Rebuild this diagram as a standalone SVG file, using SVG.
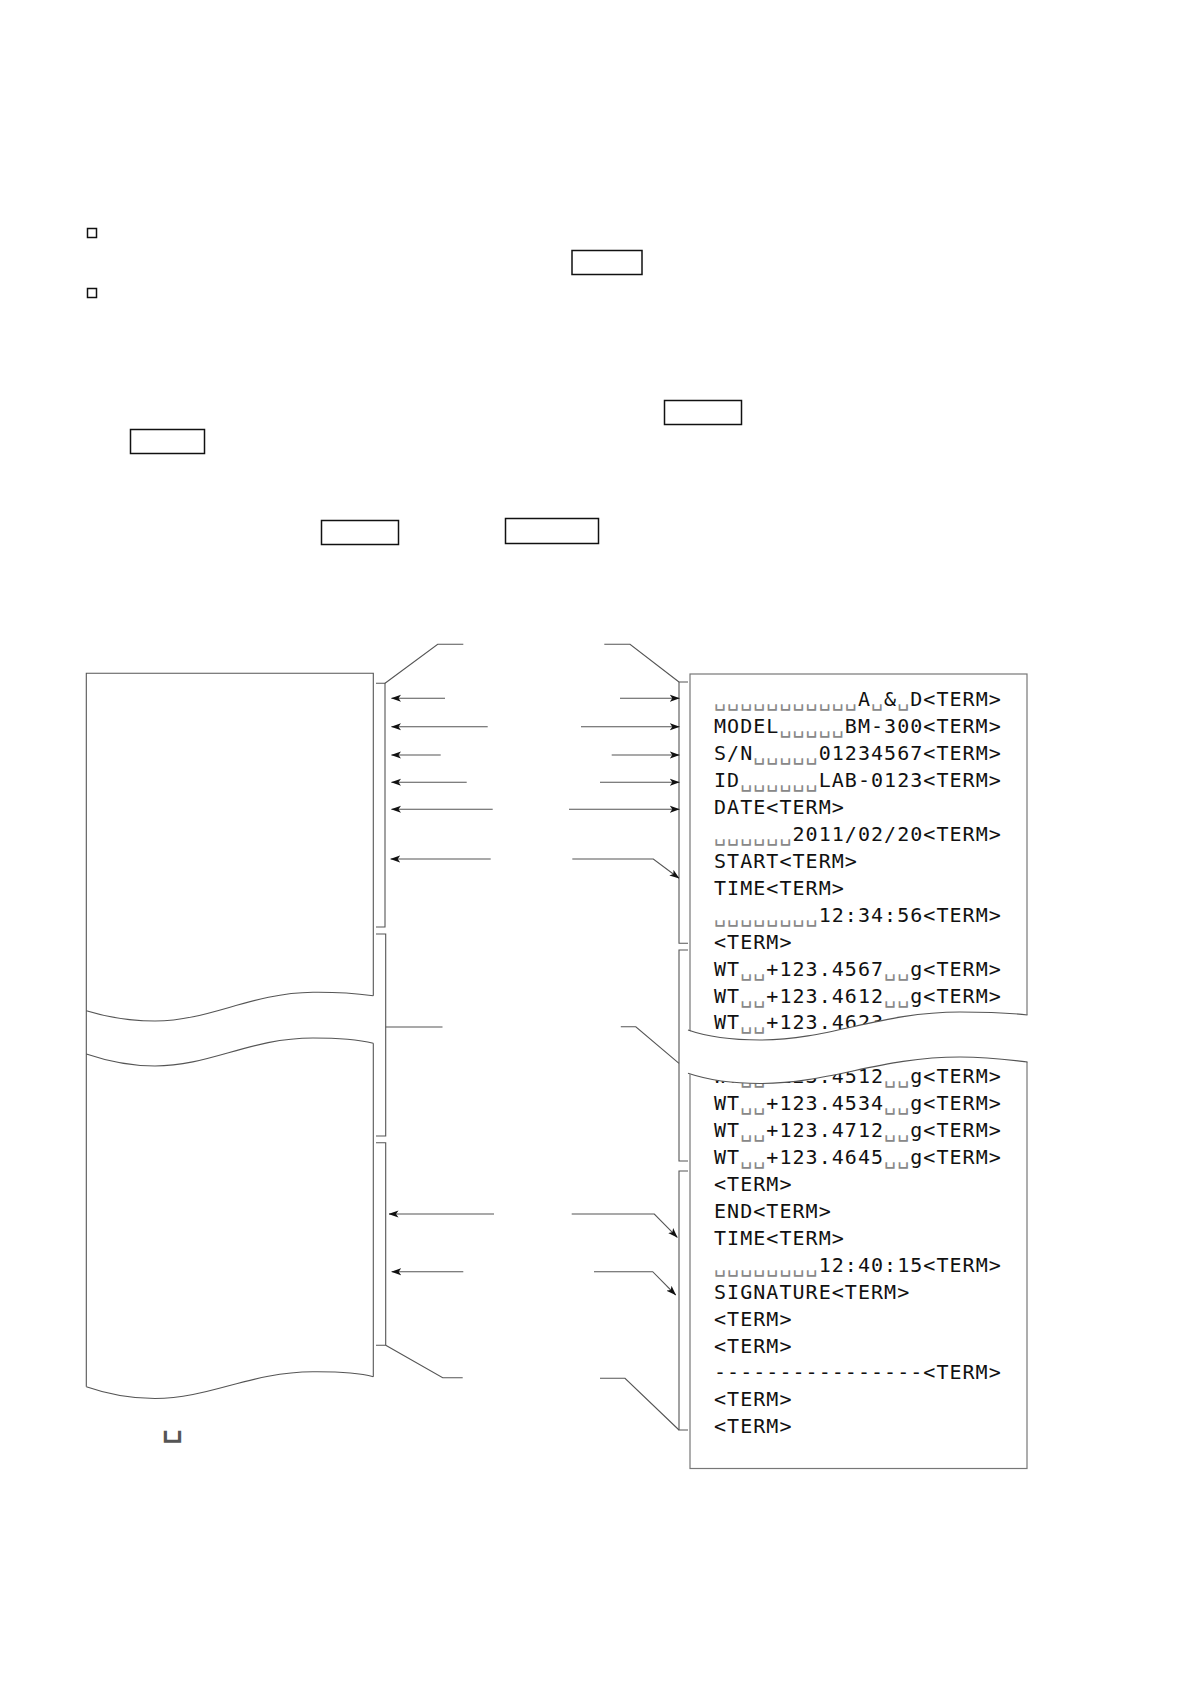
<svg xmlns="http://www.w3.org/2000/svg" width="1190" height="1684" viewBox="0 0 1190 1684">
<defs>
<style>
.box{fill:none;stroke:#111;stroke-width:1.5}
.ln{fill:none;stroke:#555;stroke-width:1.1}
.pp{fill:none;stroke:#555;stroke-width:1.1}
.rt{font-family:"DejaVu Sans Mono",monospace;font-size:20px;letter-spacing:1.04px;fill:#111}
.sp{fill:#888}
</style>
<marker id="ah" viewBox="0 0 10 8" markerWidth="10" markerHeight="8" refX="9.5" refY="4" orient="auto" markerUnits="userSpaceOnUse">
<path d="M0,0.5 L10,4 L0,7.5 L2.5,4 z" fill="#111"/>
</marker>
</defs>
<rect width="1190" height="1684" fill="#fff"/>

<g id="header">
<rect class="box" x="87.5" y="228.5" width="9" height="9"/>
<rect class="box" x="87.5" y="288.5" width="9" height="9"/>
<rect class="box" x="572" y="250.5" width="70" height="24"/>
<rect class="box" x="664.5" y="400.5" width="77" height="24"/>
<rect class="box" x="130.5" y="429.5" width="74" height="24"/>
<rect class="box" x="321.5" y="520.5" width="77" height="24"/>
<rect class="box" x="505.5" y="518.5" width="93" height="25"/>
</g>

<g id="paper">
<path class="pp" d="M373.3,995.7 L373.3,673.3 L86.3,673.3 L86.3,1386.7"/>
<path class="pp" d="M373.3,1043.3 L373.3,1376.7"/>
<path class="pp" d="M86.3,1010.7 C110,1018 130,1021 155,1021 C210,1021 250,993 313,992.3 C340,992 360,994 373.3,995.7"/>
<path class="pp" d="M86.3,1054 C110,1062 130,1066 155,1066 C210,1066 250,1038 313,1038 C340,1038 360,1040 373.3,1043.3"/>
<path class="pp" d="M86.3,1386.7 C110,1395 130,1398.5 155,1398.5 C210,1398.5 250,1372 313,1371.7 C340,1371.5 360,1373 373.3,1376.7"/>
</g>

<g id="printout">
<rect x="690" y="674" width="337" height="794.5" fill="#fff" stroke="#777" stroke-width="1.2"/>
<text class="rt" x="714" y="706.4"><tspan class="sp">␣␣␣␣␣␣␣␣␣␣␣</tspan>A<tspan class="sp">␣</tspan>&amp;<tspan class="sp">␣</tspan>D&lt;TERM&gt;</text>
<text class="rt" x="714" y="733.3">MODEL<tspan class="sp">␣␣␣␣␣</tspan>BM-300&lt;TERM&gt;</text>
<text class="rt" x="714" y="760.2">S/N<tspan class="sp">␣␣␣␣␣</tspan>01234567&lt;TERM&gt;</text>
<text class="rt" x="714" y="787.2">ID<tspan class="sp">␣␣␣␣␣␣</tspan>LAB-0123&lt;TERM&gt;</text>
<text class="rt" x="714" y="814.1">DATE&lt;TERM&gt;</text>
<text class="rt" x="714" y="841"><tspan class="sp">␣␣␣␣␣␣</tspan>2011/02/20&lt;TERM&gt;</text>
<text class="rt" x="714" y="867.9">START&lt;TERM&gt;</text>
<text class="rt" x="714" y="894.8">TIME&lt;TERM&gt;</text>
<text class="rt" x="714" y="921.8"><tspan class="sp">␣␣␣␣␣␣␣␣</tspan>12:34:56&lt;TERM&gt;</text>
<text class="rt" x="714" y="948.7">&lt;TERM&gt;</text>
<text class="rt" x="714" y="975.6">WT<tspan class="sp">␣␣</tspan>+123.4567<tspan class="sp">␣␣</tspan>g&lt;TERM&gt;</text>
<text class="rt" x="714" y="1002.5">WT<tspan class="sp">␣␣</tspan>+123.4612<tspan class="sp">␣␣</tspan>g&lt;TERM&gt;</text>
<text class="rt" x="714" y="1029.4">WT<tspan class="sp">␣␣</tspan>+123.4623</text>
<text class="rt" x="714" y="1083.3">WT<tspan class="sp">␣␣</tspan>+123.4512<tspan class="sp">␣␣</tspan>g&lt;TERM&gt;</text>
<text class="rt" x="714" y="1110.2">WT<tspan class="sp">␣␣</tspan>+123.4534<tspan class="sp">␣␣</tspan>g&lt;TERM&gt;</text>
<text class="rt" x="714" y="1137.1">WT<tspan class="sp">␣␣</tspan>+123.4712<tspan class="sp">␣␣</tspan>g&lt;TERM&gt;</text>
<text class="rt" x="714" y="1164">WT<tspan class="sp">␣␣</tspan>+123.4645<tspan class="sp">␣␣</tspan>g&lt;TERM&gt;</text>
<text class="rt" x="714" y="1191">&lt;TERM&gt;</text>
<text class="rt" x="714" y="1217.9">END&lt;TERM&gt;</text>
<text class="rt" x="714" y="1244.8">TIME&lt;TERM&gt;</text>
<text class="rt" x="714" y="1271.7"><tspan class="sp">␣␣␣␣␣␣␣␣</tspan>12:40:15&lt;TERM&gt;</text>
<text class="rt" x="714" y="1298.6">SIGNATURE&lt;TERM&gt;</text>
<text class="rt" x="714" y="1325.6">&lt;TERM&gt;</text>
<text class="rt" x="714" y="1352.5">&lt;TERM&gt;</text>
<text class="rt" x="714" y="1379.4">----------------&lt;TERM&gt;</text>
<text class="rt" x="714" y="1406.3">&lt;TERM&gt;</text>
<text class="rt" x="714" y="1433.2">&lt;TERM&gt;</text>
<path d="M686,1030 C705,1036 725,1040 760,1040 C830,1040 880,1012 960,1012 C990,1012 1010,1013 1028.5,1015 L1028.5,1062 C1010,1060 990,1057 960,1057 C880,1057 830,1083.5 760,1083.5 C725,1083.5 705,1079 686,1073.3 Z" fill="#fff"/>
<path class="pp" d="M688,1030 C705,1036 725,1040 760,1040 C830,1040 880,1012 960,1012 C990,1012 1010,1013 1027.5,1015"/>
<path class="pp" d="M688,1073.3 C705,1079 725,1083.5 760,1083.5 C830,1083.5 880,1057 960,1057 C990,1057 1010,1060 1027.5,1062"/>
</g>

<g id="connectors">
<path class="ln" d="M376,683.3 H385 V927 H376"/>
<path class="ln" d="M376,934 H385.7 V1136 H376"/>
<path class="ln" d="M376,1142.7 H385.7 V1345.3 H376"/>
<path class="ln" d="M688,682 H679 V943.3 H688"/>
<path class="ln" d="M688,950 H679 V1161 H688"/>
<path class="ln" d="M688,1171 H679 V1430 H688"/>
<path class="ln" d="M385,683.3 L437.7,644.3 H463.3"/>
<path class="ln" d="M604.3,644.3 H630 L679,682"/>
<path class="ln" d="M385.7,1027 H442.5"/>
<path class="ln" d="M620.8,1026.8 H635.8 L679,1063.3"/>
<path class="ln" d="M385.7,1345.3 L442.7,1377.7 H462.7"/>
<path class="ln" d="M600,1378.3 H625 L679,1430"/>
<line class="ln" x1="445" y1="698.3" x2="391.5" y2="698.3" marker-end="url(#ah)"/>
<line class="ln" x1="487.7" y1="726.7" x2="391.5" y2="726.7" marker-end="url(#ah)"/>
<line class="ln" x1="440.7" y1="755" x2="391.5" y2="755" marker-end="url(#ah)"/>
<line class="ln" x1="466.7" y1="782.3" x2="391.5" y2="782.3" marker-end="url(#ah)"/>
<line class="ln" x1="492.7" y1="809.3" x2="391.5" y2="809.3" marker-end="url(#ah)"/>
<line class="ln" x1="490.7" y1="859" x2="390.7" y2="859" marker-end="url(#ah)"/>
<line class="ln" x1="620" y1="698.3" x2="679.3" y2="698.3" marker-end="url(#ah)"/>
<line class="ln" x1="581" y1="726.7" x2="679.3" y2="726.7" marker-end="url(#ah)"/>
<line class="ln" x1="611.7" y1="755" x2="679.3" y2="755" marker-end="url(#ah)"/>
<line class="ln" x1="600" y1="782.3" x2="679.3" y2="782.3" marker-end="url(#ah)"/>
<line class="ln" x1="569" y1="809.3" x2="679.3" y2="809.3" marker-end="url(#ah)"/>
<path class="ln" d="M572.3,859 H653.3 L679,878.3" marker-end="url(#ah)"/>
<line class="ln" x1="494" y1="1214" x2="389" y2="1214" marker-end="url(#ah)"/>
<line class="ln" x1="463.3" y1="1271.7" x2="391.7" y2="1271.7" marker-end="url(#ah)"/>
<path class="ln" d="M571.7,1214 H654.3 L677.3,1237.3" marker-end="url(#ah)"/>
<path class="ln" d="M594,1271.7 H652.7 L675.7,1295" marker-end="url(#ah)"/>
</g>

<g id="legend">
<text x="161" y="1434" font-family="DejaVu Sans Mono, monospace" font-size="38px" fill="#555">␣</text>
</g>
</svg>
